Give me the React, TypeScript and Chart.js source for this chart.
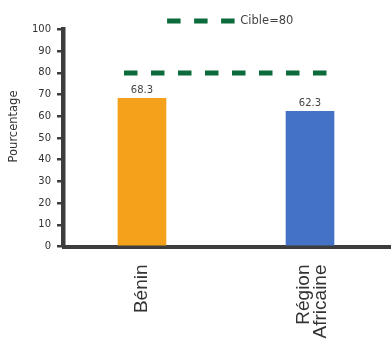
import React, { useEffect, useRef } from 'react';
import { Chart, registerables } from 'chart.js';

Chart.register(...registerables);

// ---- data ----
const categories: (string | string[])[] = ['Bénin', ['Région', 'Africaine']];
const values: number[] = [68.3, 62.3];
const barColors: string[] = ['#F5A11C', '#4472C4'];
const targetValue = 80;
const targetLabel = 'Cible=80';
const targetSpan: number[] = [-0.107, 1.101];
const yMin = 0;
const yMax = 100;
const yStep = 10;
const yTitle = 'Pourcentage';

const GREEN = '#0B6B3A';
const AXIS = '#3d3d3d';
const DASH = [13.5, 13.5];
const X_FONT_SIZE = 19;
const X_LINE_HEIGHT = 0.9;

export default function App() {
  const ref = useRef<HTMLCanvasElement>(null);

  useEffect(() => {
    const canvas = ref.current;
    if (!canvas) return;

    const decorPlugin = {
      id: 'decor',
      afterUpdate(chart: any) {
        const lg = chart.legend;
        if (lg && chart.chartArea) {
          lg.left = chart.chartArea.left + 6;
          lg.right = chart.chartArea.right;
          if (typeof lg.adjustHitBoxes === 'function') lg.adjustHitBoxes();
        }
      },
      afterDatasetsDraw(chart: any) {
        const ctx = chart.ctx;
        const meta = chart.getDatasetMeta(0);
        ctx.save();
        ctx.font = '10px "DejaVu Sans"';
        ctx.fillStyle = '#444';
        ctx.textAlign = 'center';
        ctx.textBaseline = 'bottom';
        meta.data.forEach((bar: any, i: number) => {
          ctx.fillText(values[i].toFixed(1), bar.x, bar.y - 3);
        });
        ctx.restore();
      },
      afterDraw(chart: any) {
        const ctx = chart.ctx;
        const ca = chart.chartArea;
        ctx.save();
        ctx.font = '11.5px "DejaVu Sans"';
        ctx.fillStyle = '#333';
        ctx.textAlign = 'center';
        ctx.textBaseline = 'middle';
        ctx.translate(14, ca.top + (ca.bottom - ca.top) * 0.447);
        ctx.rotate(-Math.PI / 2);
        ctx.fillText(yTitle, 0, 0);
        ctx.restore();
      },
    };

    const chart = new Chart(canvas, {
      type: 'bar',
      data: {
        datasets: [
          {
            type: 'bar',
            label: 'valeurs',
            data: values.map((v, i) => ({ x: i, y: v })),
            backgroundColor: barColors,
            barThickness: 48,
            order: 2,
          } as any,
          {
            type: 'line',
            label: targetLabel,
            data: targetSpan.map((x) => ({ x, y: targetValue })),
            borderColor: GREEN,
            backgroundColor: GREEN,
            borderWidth: 5,
            borderDash: DASH,
            borderCapStyle: 'butt',
            pointRadius: 0,
            fill: false,
            order: 1,
          } as any,
        ],
      },
      options: {
        responsive: false,
        animation: false,
        events: [],
        layout: { padding: { top: 11.5, left: 0, right: 0, bottom: 0 } },
        scales: {
          x: {
            type: 'linear',
            offset: false,
            min: -0.467,
            max: 1.482,
            grid: { display: false, drawTicks: false, offset: false },
            border: { display: true, width: 4, color: AXIS },
            ticks: {
              autoSkip: false,
              minRotation: 90,
              maxRotation: 90,
              padding: 18,
              color: '#333',
              font: { family: '"Liberation Sans", Arial, sans-serif', size: X_FONT_SIZE, lineHeight: X_LINE_HEIGHT },
              callback: (_v: any, i: number) => categories[i] as any,
            },
            afterBuildTicks: (s: any) => {
              const ppu = s.width / (s.max - s.min);
              const lh = X_FONT_SIZE * X_LINE_HEIGHT;
              s.ticks = categories.map((c, i) => {
                const lines = Array.isArray(c) ? c.length : 1;
                return { value: i - ((lines - 1) * (lh / 2 - 2)) / ppu };
              });
            },
            afterFit: (s: any) => {
              s.height = 95.5;
            },
          } as any,
          y: {
            min: yMin,
            max: yMax,
            ticks: {
              stepSize: yStep,
              padding: 6,
              color: '#333',
              font: { family: '"DejaVu Sans"', size: 10 },
            },
            grid: {
              drawOnChartArea: false,
              drawTicks: true,
              tickLength: 6.5,
              lineWidth: 2.5,
              color: AXIS,
            },
            border: { display: true, width: 4.5, color: AXIS },
            afterFit: (s: any) => {
              s.width = 63.5;
            },
          } as any,
        },
        plugins: {
          tooltip: { enabled: false },
          legend: {
            display: true,
            position: 'top',
            maxHeight: 18,
            labels: {
              usePointStyle: true,
              pointStyleWidth: 67.5,
              padding: 3.75,
              color: '#444',
              font: { family: '"DejaVu Sans"', size: 11.5 },
              generateLabels: () => [
                {
                  text: targetLabel,
                  fillStyle: GREEN,
                  strokeStyle: GREEN,
                  lineWidth: 5,
                  lineDash: DASH,
                  lineCap: 'butt',
                  pointStyle: 'line',
                  hidden: false,
                  datasetIndex: 1,
                  fontColor: '#444',
                } as any,
              ],
            },
          } as any,
        },
      },
      plugins: [decorPlugin as any],
    });

    return () => chart.destroy();
  }, []);

  return (
    <canvas
      ref={ref}
      width={391}
      height={342}
      style={{ position: 'absolute', left: 0, top: 0, width: 391, height: 342, background: '#fff' }}
    />
  );
}
